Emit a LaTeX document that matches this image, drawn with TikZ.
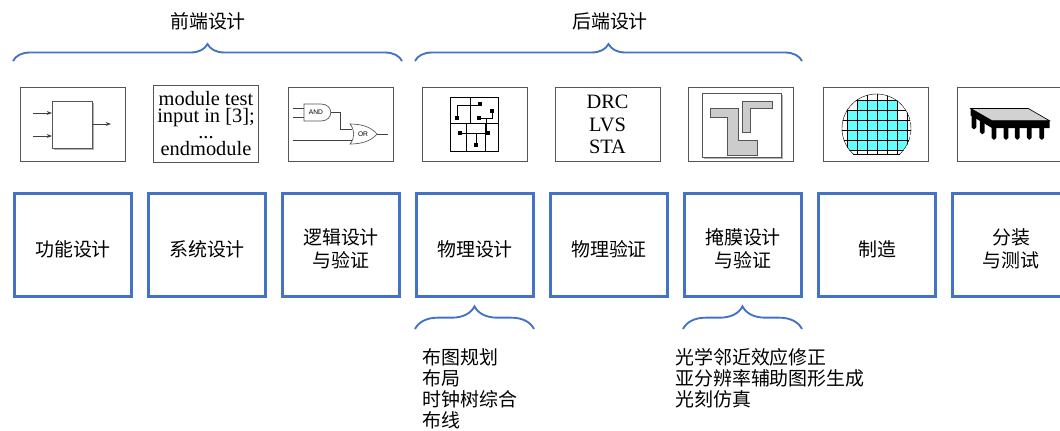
\documentclass[tikz,border=0pt]{standalone}
\usepackage{fontspec}
\setmainfont{Liberation Serif}
\setsansfont{Liberation Sans}
\newfontfamily\cjk{Noto Sans CJK SC}
\usetikzlibrary{arrows.meta,decorations.pathreplacing}

\definecolor{flowblue}{HTML}{4472C4}
\definecolor{framegray}{HTML}{555555}
\definecolor{wafercyan}{HTML}{66FFFF}

\tikzset{
  stage/.style={draw=flowblue, line width=2.2pt, minimum width=87.75pt,
    minimum height=77.25pt, inner sep=0pt,
    label={[stagetext]center:#1}},
  stagetext/.style={inner sep=0pt, align=center, yshift=-3pt,
    font=\cjk\fontsize{14.2}{17}\selectfont},
  icon/.style={draw=framegray, line width=0.6pt, minimum width=78.75pt,
    minimum height=55.5pt, inner sep=0pt, fill=white},
  bracket/.style={draw=flowblue, line width=1.4pt, decorate},
  phase/.style={inner sep=0pt, font=\cjk\fontsize{14.2}{17}\selectfont},
  steps/.style={inner sep=0pt, align=left,
    font=\cjk\fontsize{14.2}{15.75}\selectfont},
  wire/.style={draw=darkgray, line width=0.6pt},
  pin/.style={fill=black, minimum size=2.6pt, inner sep=0pt},
}

\begin{document}
\begin{tikzpicture}[x=0.75pt, y=-0.75pt]
  \useasboundingbox (0,0) rectangle (1060,430);
  \clip (0,0) rectangle (1060,430);

  % design flow, one blue box per stage
  \node[stage={功能设计}] (func) at (73,245) {};
  \node[stage={系统设计}] (sys) at (207,245) {};
  \node[stage={逻辑设计\\与验证}] (logic) at (341,245) {};
  \node[stage={物理设计}] (phys) at (475,245) {};
  \node[stage={物理验证}] (pver) at (609,245) {};
  \node[stage={掩膜设计\\与验证}] (mask) at (743,245) {};
  \node[stage={制造}] (fab) at (877,245) {};
  \node[stage={分装\\与测试}] (pack) at (1011,245) {};

  % front end / back end
  \draw[bracket, decoration={brace, amplitude=12.75pt}] (13,61) -- (402,61);
  \node[phase] (front) at (208,21) {前端设计};
  \draw[bracket, decoration={brace, amplitude=12.75pt}] (415,61) -- (802,61);
  \node[phase] (back) at (610,21) {后端设计};

  % sub steps below
  \draw[bracket, decoration={brace, amplitude=17pt}] (415,329) -- (534,329);
  \node[steps, anchor=north west] (physsteps) at (422,348.5)
    {布图规划\\布局\\时钟树综合\\布线};
  \draw[bracket, decoration={brace, amplitude=17pt}] (683,329) -- (802,329);
  \node[steps, anchor=north west] (masksteps) at (675,348.5)
    {光学邻近效应修正\\亚分辨率辅助图形生成\\光刻仿真};

  % pictures above the boxes
  \node[icon] (ifunc) at (73,124.5) {};
  \fill[gray!60] (54,103) rectangle (94,150);
  \draw[framegray, fill=white, line width=0.5pt] (52,101) rectangle (92,148);
  \draw[wire, -{Stealth[length=4pt]}] (33,113) -- (52,113);
  \draw[wire, -{Stealth[length=4pt]}] (33,136) -- (52,136);
  \draw[wire, -{Stealth[length=4pt]}] (92,124) -- (111,124);

  \node[icon, minimum height=57.75pt, align=center,
    font=\fontsize{15.3}{12.4}\selectfont] (isys) at (206,123.5)
    {module test\\input in [3];\\...\\endmodule};

  \node[icon] (ilogic) at (340.5,124.5) {};
  \draw[wire] (293,108) -- (304,108) (293,117) -- (304,117);
  \draw[wire] (331,112.5) -- (340,112.5) -- (340,129) -- (352,129);
  \draw[wire] (293,140) -- (352,140);
  \draw[wire] (376,134) -- (388,134);
  \draw[framegray, fill=white, line width=0.5pt]
    (304,104) -- (321,104) .. controls (334,104) and (334,121) .. (321,121)
    -- (304,121) -- cycle;
  \draw[framegray, fill=white, line width=0.5pt]
    (350,124) .. controls (355,130) and (355,138) .. (350,144)
    .. controls (362,144) and (371,141) .. (377,134)
    .. controls (371,127) and (362,124) .. (350,124) -- cycle;
  \node[font=\sffamily\fontsize{5}{6}\selectfont, inner sep=0pt] (andlbl) at (316,112.5) {AND};
  \node[font=\sffamily\fontsize{5}{6}\selectfont, inner sep=0pt] (orlbl) at (363,134) {OR};

  \node[icon] (iphys) at (474.5,124.5) {};
  \draw[black, line width=0.6pt] (450,97) rectangle (498,151);
  \draw[black, line width=0.5pt] (470,97) -- (470,123) (450,123) -- (498,123)
    (466.7,123) -- (466.7,151) (485,123) -- (485,151);
  \draw[black, line width=0.5pt] (457,118) -- (457,105) -- (480,105)
    (479,118) -- (492,118) -- (492,111) (486.7,118) -- (486.7,133)
    (460,133) -- (488,133) (476,145) -- (476,133);
  \foreach \px/\py in {457/118, 480/104, 479/118, 492/111, 460/133, 488/133, 476/145}
    \node[pin] at (\px,\py) {};

  \node[icon, align=center, font=\fontsize{15.3}{17}\selectfont] (ipver) at (607.5,124.5)
    {DRC\\LVS\\STA};

  \node[icon] (imask) at (740.5,124.5) {};
  \fill[gray!60] (704,95) rectangle (783,159);
  \draw[framegray, fill=white, line width=0.5pt] (702,93) rectangle (781,157);
  \draw[framegray, fill=gray!40, line width=0.6pt] (710,108) -- (738,108) -- (738,140)
    -- (757,140) -- (757,155) -- (727,155) -- (727,117) -- (710,117) -- cycle;
  \draw[framegray, fill=gray!40, line width=0.6pt] (742,101) -- (772,101) -- (772,108)
    -- (750,108) -- (750,132) -- (742,132) -- cycle;

  \node[icon] (ifab) at (876,124.5) {};
  \begin{scope}
    \clip (876.5,128.5) circle (34.7);
    \clip (830,90) rectangle (925,154);
    \fill[wafercyan] (857.7,100.7) -- (897.7,100.7) -- (897.7,110.7) -- (897.7,120.7)
      -- (907.7,120.7) -- (907.7,150.7) -- (847.7,150.7) -- (847.7,110.7)
      -- (857.7,110.7) -- cycle;
    \foreach \gx in {-3,...,7}
      \draw[black, line width=0.5pt] (817.7+10*\gx+30,90) -- (817.7+10*\gx+30,160);
    \foreach \gy in {-1,...,6}
      \draw[black, line width=0.5pt] (835,100.7+10*\gy) -- (920,100.7+10*\gy);
    \draw[black, line width=0.6pt] (876.5,128.5) circle (34.7);
  \end{scope}
  \draw[black, line width=0.6pt] (853,154) -- (900,154);

  \node[icon] (ipack) at (1009.5,124.5) {};
  \draw[black, fill=gray!35, line width=0.5pt] (970.7,108.5) -- (1028.3,108.5)
    -- (1049.5,120.7) -- (992,120.7) -- cycle;
  \fill[black] (970.7,108.5) -- (992,120.7) -- (1049.5,120.7) -- (1049.5,128)
    -- (992,128) -- (970.7,115.5) -- cycle;
  \foreach \lx in {994,1006,1017.3,1029.3,1041.7}
    \fill[black, rounded corners=1.4pt] (\lx-2.4,125) rectangle (\lx+2.4,139.5);
  \foreach \lx/\ly in {974/114, 982.3/119}
    \fill[black, rounded corners=1.4pt] (\lx-2.4,\ly) rectangle (\lx+2.4,\ly+15);
\end{tikzpicture}
\end{document}
